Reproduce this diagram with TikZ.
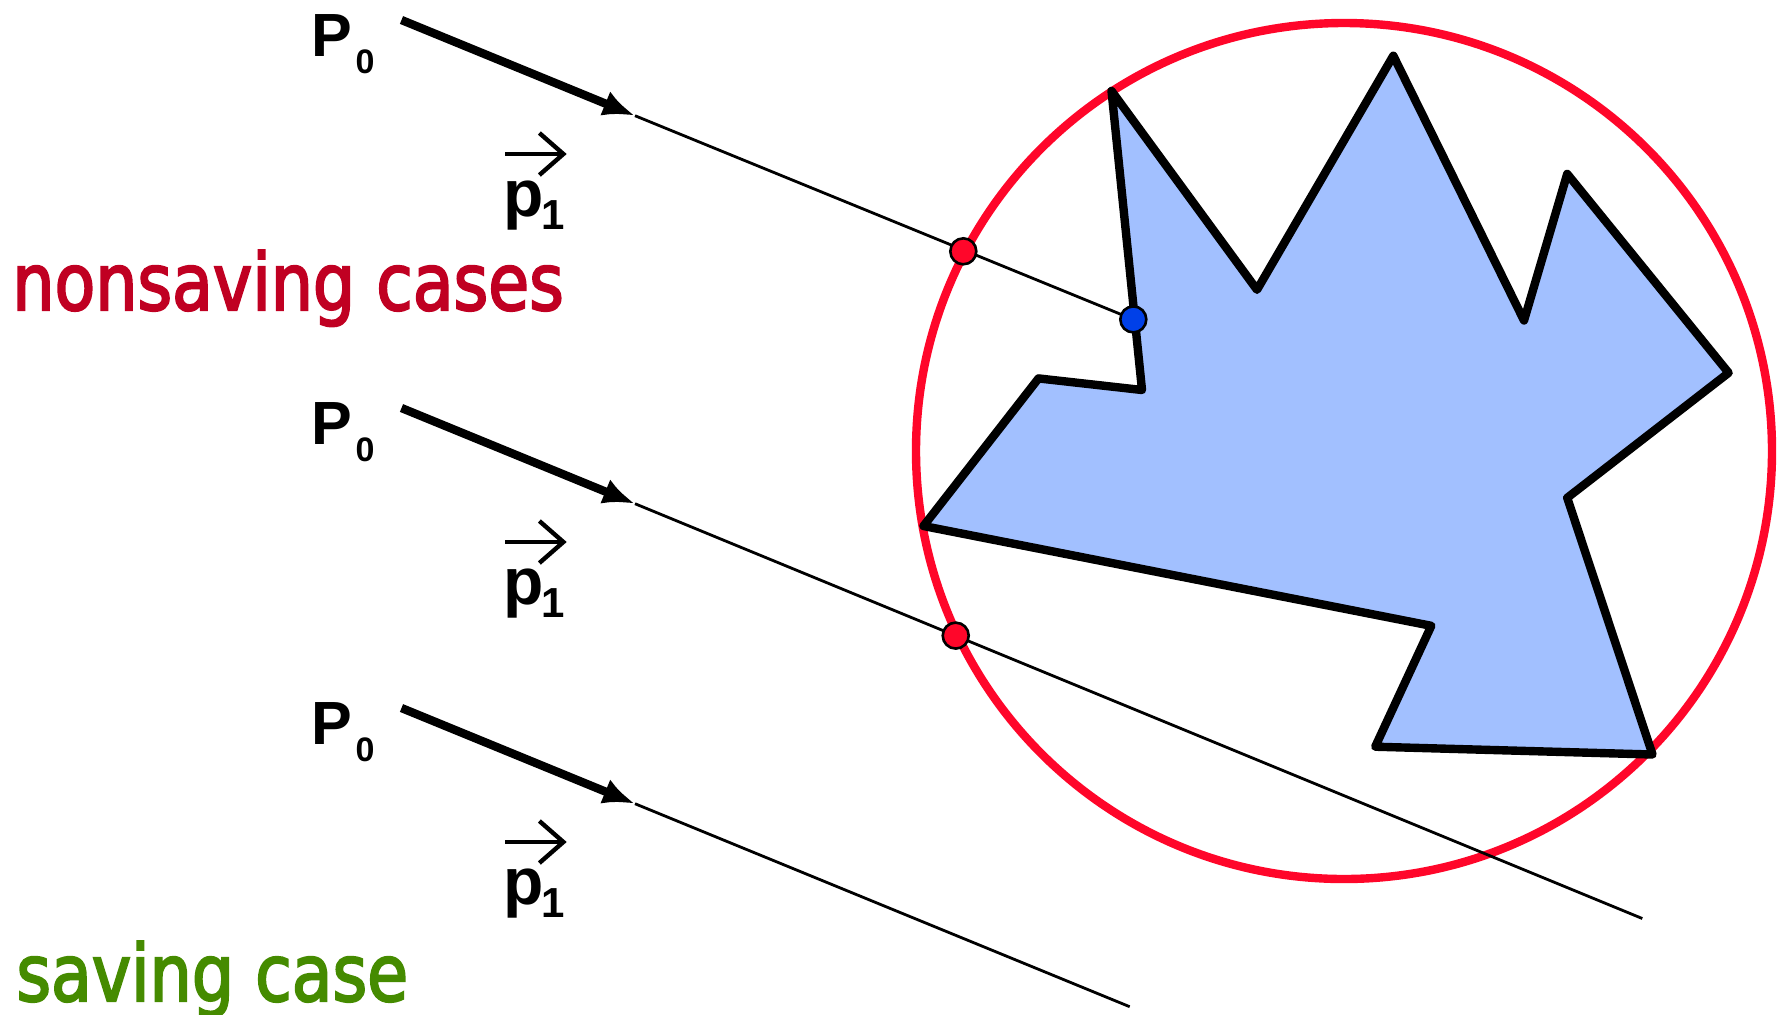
\documentclass[tikz,border=0pt]{standalone}
\usepackage{fontspec}
\setmainfont{Liberation Sans}
\newfontfamily\labfont[FakeStretch=0.842,FakeBold=2.5]{DejaVu Sans}
\usetikzlibrary{arrows.meta}
\definecolor{circred}{RGB}{255,6,42}
\definecolor{polyblue}{RGB}{162,192,255}
\definecolor{dotblue}{RGB}{0,64,232}
\definecolor{nsred}{RGB}{192,0,34}
\definecolor{sgreen}{RGB}{69,139,0}
\begin{document}
\begin{tikzpicture}[x=0.5pt,y=-0.5pt,
  ray/.style={line width=4.2pt,-{Latex[length=16pt,width=13pt]}},
  thinray/.style={line width=1.4pt},
  poly/.style={draw=black,fill=polyblue,line width=4.2pt,line join=round},
  bound/.style={draw=circred,line width=4.2pt},
  dot/.style={circle,draw=black,line width=1.3pt,minimum size=13pt,inner sep=0pt},
  ptlabel/.style={anchor=base west,inner sep=0pt,font=\bfseries\fontsize{30.5}{32}\selectfont},
  veclabel/.style={anchor=base west,inner sep=0pt,font=\bfseries\fontsize{33}{35}\selectfont},
  vec/.style={line width=2.2pt,-{Straight Barb[length=12pt,width=21pt]}},
  casetext/.style={anchor=base west,inner sep=0pt,font=\labfont\fontsize{39.5}{42}\selectfont}
]
\useasboundingbox (0,0) rectangle (1782,1014);

% bounding circle
\draw[bound] (1344,451) circle[radius=428];

% polygon
\draw[poly] (1111.5,90.9) -- (1257,289.8) -- (1393.3,55.7) -- (1524,320.5)
  -- (1567.2,173.9) -- (1728.6,372.8) -- (1567.2,497.8) -- (1652.5,754.5)
  -- (1375.2,746.7) -- (1431.3,625.8) -- (923.5,526) -- (1038.5,378.4)
  -- (1142,390) -- cycle;

% ray coordinates
\coordinate (s1) at (401.5,20);
\coordinate (t1) at (635,115.7);
\coordinate (h1) at (963.3,251.3);
\coordinate (q1) at (1133.3,319.4);
\coordinate (s2) at (401.5,408);
\coordinate (t2) at (635,503.7);
\coordinate (h2) at (955.7,635.6);
\coordinate (e2) at (1642.3,918.5);
\coordinate (s3) at (401.5,708);
\coordinate (t3) at (635,803.7);
\coordinate (e3) at (1129.7,1006.7);

% rays
\draw[ray] (s1) -- (t1);
\draw[thinray] (t1) -- (q1);
\draw[ray] (s2) -- (t2);
\draw[thinray] (t2) -- (e2);
\draw[ray] (s3) -- (t3);
\draw[thinray] (t3) -- (e3);

% hit points
\node[dot,fill=circred] (r1) at (h1) {};
\node[dot,fill=dotblue] (b1) at (q1) {};
\node[dot,fill=circred] (r2) at (h2) {};

% P0 labels
\node[ptlabel] (P01) at (311,56) {P\kern1.8pt\raisebox{-8.5pt}{\fontsize{17}{18}\selectfont 0}};
\node[ptlabel] (P02) at (311,444) {P\kern1.8pt\raisebox{-8.5pt}{\fontsize{17}{18}\selectfont 0}};
\node[ptlabel] (P03) at (311,744) {P\kern1.8pt\raisebox{-8.5pt}{\fontsize{17}{18}\selectfont 0}};

% p1 labels with vector arrows
\node[veclabel] (p11) at (503,216) {p\kern-1.2pt\raisebox{-6.75pt}{\fontsize{21}{22}\selectfont 1}};
\node[veclabel] (p12) at (503,604) {p\kern-1.2pt\raisebox{-6.75pt}{\fontsize{21}{22}\selectfont 1}};
\node[veclabel] (p13) at (503,904) {p\kern-1.2pt\raisebox{-6.75pt}{\fontsize{21}{22}\selectfont 1}};
\coordinate (va1) at (505,154);   \coordinate (vb1) at (566.7,154);
\coordinate (va2) at (505,542);   \coordinate (vb2) at (566.7,542);
\coordinate (va3) at (505,842);   \coordinate (vb3) at (566.7,842);
\draw[vec] (va1) -- (vb1);
\draw[vec] (va2) -- (vb2);
\draw[vec] (va3) -- (vb3);

% case labels
\node[casetext,text=nsred] (ns) at (12,310) {nonsaving cases};
\node[casetext,text=sgreen] (sv) at (16,1001) {saving case};
\end{tikzpicture}
\end{document}
